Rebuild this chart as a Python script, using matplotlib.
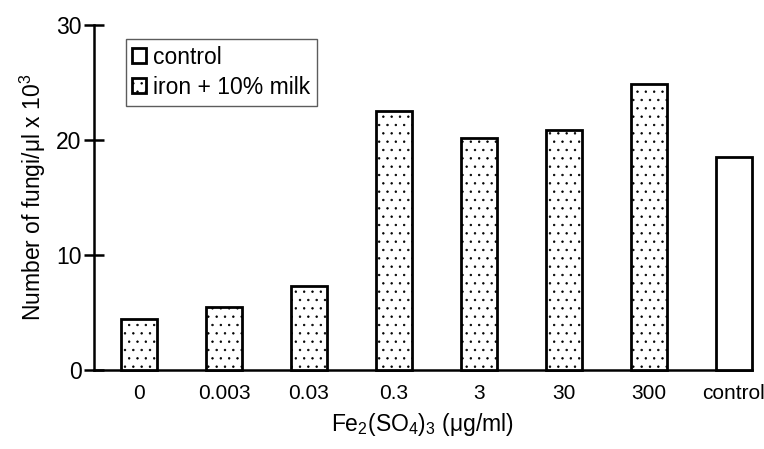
import matplotlib
matplotlib.use("Agg")
import matplotlib.pyplot as plt
from matplotlib.patches import Patch
from matplotlib import font_manager as fm

names = {f.name for f in fm.fontManager.ttflist}
fam = [f for f in ["Liberation Sans Narrow", "Liberation Sans", "DejaVu Sans"] if f in names]
plt.rcParams['font.family'] = fam
plt.rcParams['mathtext.fontset'] = 'custom'
plt.rcParams['mathtext.rm'] = fam[0]
plt.rcParams['hatch.linewidth'] = 0.5

categories = ["0", "0.003", "0.03", "0.3", "3", "30", "300", "control"]
values = [4.4, 5.5, 7.3, 22.5, 20.2, 20.9, 24.9, 18.5]
is_control = [False, False, False, False, False, False, False, True]
yticks = [0, 10, 20, 30]

fs = 16.5
fig = plt.figure(figsize=(7.64, 4.49), dpi=100)
ax = fig.add_axes([0.123, 0.176, 0.861, 0.768])

x = list(range(len(categories)))
for xi, v, c in zip(x, values, is_control):
    ax.bar(xi, v, width=0.42, facecolor='white', edgecolor='black',
           linewidth=2.0, hatch=None if c else '..', zorder=3, clip_on=False)

ax.set_xlim(-0.53, 7.21)
ax.set_ylim(0, 30)
ax.set_yticks(yticks)
ax.set_xticks(x)
ax.set_xticklabels(categories)
ax.tick_params(axis='x', length=0, labelsize=15, pad=10)
ax.tick_params(axis='y', direction='inout', length=14, width=1.8, labelsize=fs, pad=2)
for s in ['top', 'right']:
    ax.spines[s].set_visible(False)
ax.spines['left'].set_linewidth(1.8)
ax.spines['bottom'].set_linewidth(1.8)

ax.set_ylabel(r"Number of fungi/μl x 10$^{3}$", fontsize=fs, labelpad=6)
ax.set_xlabel(r"$\mathregular{Fe_2(SO_4)_3}$ (μg/ml)", fontsize=fs, labelpad=6)

handles = [Patch(facecolor='white', edgecolor='black', linewidth=2.0, label='control'),
           Patch(facecolor='white', edgecolor='black', linewidth=2.0, hatch='..', label='iron + 10% milk')]
leg = ax.legend(handles=handles, loc='upper left', bbox_to_anchor=(0.048, 0.96),
                fontsize=fs, frameon=True, fancybox=False, handlelength=0.6,
                handleheight=0.6, handletextpad=0.3, borderpad=0.3, labelspacing=0.3,
                borderaxespad=0)
leg.get_frame().set_edgecolor('#333333')
leg.get_frame().set_linewidth(1.0)

fig.savefig("out.png", dpi=100)
